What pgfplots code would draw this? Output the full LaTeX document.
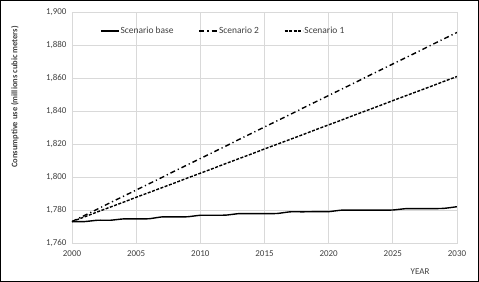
\documentclass[border=0pt]{standalone}
\usepackage{pgfplots}
\pgfplotsset{compat=1.18}
\usepackage{fontspec}
\setmainfont{Carlito}
\definecolor{gridc}{HTML}{D9D9D9}
\definecolor{txt}{HTML}{404040}
\begin{document}
\begin{tikzpicture}
\useasboundingbox (-72bp,-39bp) rectangle (407bp,243bp);
\draw[black, line width=1.2bp] (-71.4bp,-38.4bp) rectangle (406.4bp,242.4bp);
\begin{axis}[
  at={(0,0)}, anchor=south west,
  scale only axis, width=385bp, height=231bp,
  xmin=2000, xmax=2030, ymin=1760, ymax=1900,
  xtick={2000,2005,...,2030}, ytick={1760,1780,...,1900},
  grid=major, grid style={gridc, line width=0.8bp},
  axis line style={gridc, line width=0.8bp},
  major tick length=0pt,
  tick label style={font=\fontsize{9}{10}\selectfont, text=txt},
  /pgf/number format/assume math mode=true,
  yticklabel style={/pgf/number format/1000 sep={,}, xshift=-2bp},
  xticklabel style={/pgf/number format/1000 sep={}, yshift=-4bp},
  ylabel={\textbf{Consumptive use (millions cubic meters)}},
  ylabel style={at={(axis description cs:-0.148,0.632)}, anchor=center, font=\fontsize{8.5}{10}\selectfont, text=txt},
  xlabel={YEAR},
  xlabel style={at={(axis description cs:0.904,-0.1255)}, anchor=center, font=\fontsize{9}{10}\selectfont, text=txt},
  legend columns=3,
  legend style={at={(rel axis cs:0.0727,0.918)}, anchor=west, draw=none, fill=none, inner sep=0pt,
    font=\fontsize{9.5}{10}\selectfont, text=txt,
    /tikz/every odd column/.append style={column sep=0pt},
    /tikz/every even column/.append style={column sep=24bp},
    nodes={inner xsep=1bp}},
  legend image code/.code={\draw[#1] (0bp,0bp) -- (18bp,0bp);},
]
\addplot[black, line width=1.4bp, smooth, tension=0.3] coordinates {
(2000,1773.0) (2001,1773.0) (2002,1773.8) (2003,1773.8) (2004,1774.6) (2005,1774.6)
(2006,1774.7) (2007,1775.8) (2008,1775.8) (2009,1775.9) (2010,1776.8) (2011,1776.8)
(2012,1776.9) (2013,1777.8) (2014,1777.8) (2015,1777.8) (2016,1777.9) (2017,1778.9)
(2018,1778.9) (2019,1779.0) (2020,1779.0) (2021,1779.9) (2022,1779.9) (2023,1779.9)
(2024,1779.9) (2025,1780.0) (2026,1780.8) (2027,1780.8) (2028,1780.8) (2029,1781.0)
(2030,1782.0)};
\addlegendentry{Scenario base}
\addplot[black, line width=1.4bp, dash pattern=on 5bp off 3bp on 1.2bp off 3bp] coordinates {
(2000,1773.0) (2001,1776.8) (2002,1780.6) (2003,1784.5) (2004,1788.3) (2005,1792.1)
(2006,1795.9) (2007,1799.7) (2008,1803.6) (2009,1807.4) (2010,1811.2) (2011,1815.0)
(2012,1818.8) (2013,1822.7) (2014,1826.5) (2015,1830.3) (2016,1834.1) (2017,1837.9)
(2018,1841.8) (2019,1845.6) (2020,1849.4) (2021,1853.2) (2022,1857.0) (2023,1860.9)
(2024,1864.7) (2025,1868.5) (2026,1872.3) (2027,1876.1) (2028,1880.0) (2029,1883.8)
(2030,1887.6)};
\addlegendentry{Scenario 2}
\addplot[black, line width=1.4bp, dash pattern=on 3bp off 1.5bp] coordinates {
(2000,1773.0) (2001,1775.9) (2002,1778.9) (2003,1781.8) (2004,1784.7) (2005,1787.7)
(2006,1790.6) (2007,1793.5) (2008,1796.4) (2009,1799.4) (2010,1802.3) (2011,1805.2)
(2012,1808.2) (2013,1811.1) (2014,1814.0) (2015,1817.0) (2016,1819.9) (2017,1822.8)
(2018,1825.7) (2019,1828.7) (2020,1831.6) (2021,1834.5) (2022,1837.5) (2023,1840.4)
(2024,1843.3) (2025,1846.3) (2026,1849.2) (2027,1852.1) (2028,1855.0) (2029,1858.0)
(2030,1860.9)};
\addlegendentry{Scenario 1}
\end{axis}
\end{tikzpicture}
\end{document}
